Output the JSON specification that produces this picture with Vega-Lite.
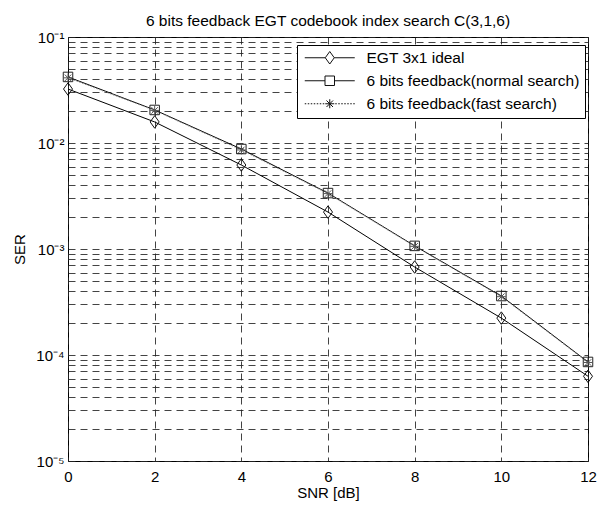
{
  "$schema": "https://vega.github.io/schema/vega-lite/v6.json",
  "width": 520,
  "height": 424,
  "autosize": {"type": "none"},
  "padding": {"left": 68, "top": 37, "right": 20, "bottom": 45},
  "background": "white",
  "config": {
    "font": "Liberation Sans",
    "view": {"stroke": "black", "strokeWidth": 1},
    "axis": {
      "labelFont": "Liberation Sans",
      "titleFont": "Liberation Sans",
      "labelFontSize": 15,
      "titleFontSize": 15,
      "titleFontWeight": "normal",
      "labelColor": "black",
      "titleColor": "black",
      "domain": false,
      "ticks": false,
      "gridColor": "#222222",
      "gridDash": [7, 5],
      "gridWidth": 1,
      "gridOpacity": 0.85
    },
    "legend": {
      "labelFont": "Liberation Sans",
      "labelFontSize": 15.5,
      "labelColor": "black",
      "labelLimit": 0
    }
  },
  "title": {
    "text": "6 bits feedback EGT codebook index search C(3,1,6)",
    "font": "Liberation Sans",
    "fontSize": 15.5,
    "fontWeight": "normal",
    "color": "black",
    "anchor": "middle",
    "offset": 1
  },
  "data": {
    "values": [
      {"snr": 0, "ser": 0.0323, "series": "EGT 3x1 ideal"},
      {"snr": 2, "ser": 0.0158, "series": "EGT 3x1 ideal"},
      {"snr": 4, "ser": 0.0062, "series": "EGT 3x1 ideal"},
      {"snr": 6, "ser": 0.00223, "series": "EGT 3x1 ideal"},
      {"snr": 8, "ser": 0.000676, "series": "EGT 3x1 ideal"},
      {"snr": 10, "ser": 0.000223, "series": "EGT 3x1 ideal"},
      {"snr": 12, "ser": 0.000063, "series": "EGT 3x1 ideal"},
      {"snr": 0, "ser": 0.042, "series": "6 bits feedback(normal search)"},
      {"snr": 2, "ser": 0.0205, "series": "6 bits feedback(normal search)"},
      {"snr": 4, "ser": 0.00877, "series": "6 bits feedback(normal search)"},
      {"snr": 6, "ser": 0.00337, "series": "6 bits feedback(normal search)"},
      {"snr": 8, "ser": 0.00107, "series": "6 bits feedback(normal search)"},
      {"snr": 10, "ser": 0.00036, "series": "6 bits feedback(normal search)"},
      {"snr": 12, "ser": 0.000086, "series": "6 bits feedback(normal search)"},
      {"snr": 0, "ser": 0.0412, "series": "6 bits feedback(fast search)"},
      {"snr": 2, "ser": 0.0203, "series": "6 bits feedback(fast search)"},
      {"snr": 4, "ser": 0.0086, "series": "6 bits feedback(fast search)"},
      {"snr": 6, "ser": 0.00333, "series": "6 bits feedback(fast search)"},
      {"snr": 8, "ser": 0.00106, "series": "6 bits feedback(fast search)"},
      {"snr": 10, "ser": 0.000355, "series": "6 bits feedback(fast search)"},
      {"snr": 12, "ser": 0.000085, "series": "6 bits feedback(fast search)"}
    ]
  },
  "encoding": {
    "x": {
      "field": "snr",
      "type": "quantitative",
      "scale": {"domain": [0, 12], "nice": false, "zero": false},
      "axis": {
        "title": "SNR [dB]",
        "values": [0, 2, 4, 6, 8, 10, 12],
        "labelPadding": 8,
        "titlePadding": 1,
        "labelFlush": false
      }
    },
    "y": {
      "field": "ser",
      "type": "quantitative",
      "scale": {"type": "log", "domain": [0.00001, 0.1], "nice": false},
      "axis": {
        "title": "SER",
        "titlePadding": 8,
        "labelPadding": 4,
        "values": [0.00001, 0.00002, 0.00003, 0.00004, 0.00005, 0.00006, 0.00007, 0.00008, 0.00009,
                   0.0001, 0.0002, 0.0003, 0.0004, 0.0005, 0.0006, 0.0007, 0.0008, 0.0009,
                   0.001, 0.002, 0.003, 0.004, 0.005, 0.006, 0.007, 0.008, 0.009,
                   0.01, 0.02, 0.03, 0.04, 0.05, 0.06, 0.07, 0.08, 0.09, 0.1],
        "labelExpr": "abs(log(datum.value)/LN10 - round(log(datum.value)/LN10)) < 0.000001 ? '10' + ['⁰','⁻¹','⁻²','⁻³','⁻⁴','⁻⁵'][-round(log(datum.value)/LN10)] : ''",
        "labelFlush": false
      }
    }
  },
  "layer": [
    {
      "transform": [{"filter": "datum.series !== '6 bits feedback(fast search)'"}],
      "mark": {"type": "line", "strokeWidth": 1, "color": "black"},
      "encoding": {
        "detail": {"field": "series", "type": "nominal"}
      }
    },
    {
      "transform": [{"filter": "datum.series === '6 bits feedback(fast search)'"}],
      "mark": {"type": "line", "strokeWidth": 1, "color": "#888888", "strokeDash": [1.5, 1.5]},
      "encoding": {}
    },
    {
      "transform": [{"filter": "datum.series === 'EGT 3x1 ideal'"}],
      "mark": {"type": "point", "filled": false, "size": 100, "strokeWidth": 1, "opacity": 1, "color": "#111111", "shape": "M0,-1.25L0.9,0L0,1.25L-0.9,0Z"}
    },
    {
      "transform": [{"filter": "datum.series === '6 bits feedback(normal search)'"}],
      "mark": {"type": "point", "filled": false, "size": 100, "strokeWidth": 1, "opacity": 1, "color": "#222222", "shape": "M-0.95,-0.95H0.95V0.95H-0.95Z"}
    },
    {
      "transform": [{"filter": "datum.series === '6 bits feedback(fast search)'"}],
      "mark": {"type": "point", "filled": false, "size": 100, "strokeWidth": 1, "opacity": 1, "color": "#555555", "shape": "M-0.9,0H0.9M0,-0.9V0.9M-0.65,-0.65L0.65,0.65M-0.65,0.65L0.65,-0.65"}
    },
    {
      "mark": {"type": "point", "filled": false, "size": 100, "strokeWidth": 1, "opacity": 0, "color": "#111111"},
      "encoding": {
        "shape": {
          "field": "series",
          "type": "nominal",
          "scale": {
            "domain": ["EGT 3x1 ideal", "6 bits feedback(normal search)", "6 bits feedback(fast search)"],
            "range": [
              "M-5,0H-0.9M0,-1.25L0.9,0L0,1.25L-0.9,0ZM0.9,0H5",
              "M-5,0H-0.95M-0.95,-0.95H0.95V0.95H-0.95ZM0.95,0H5",
              "M-5,0H-4.7M-4.4,0H-4.1M-3.8,0H-3.5M-3.2,0H-2.9M-2.6,0H-2.3M-2,0H-1.7M-1.4,0H-1.1M1.1,0H1.4M1.7,0H2M2.3,0H2.6M2.9,0H3.2M3.5,0H3.8M4.1,0H4.4M4.7,0H5M-0.9,0H0.9M0,-0.9V0.9M-0.65,-0.65L0.65,0.65M-0.65,0.65L0.65,-0.65"
            ]
          },
          "legend": {
            "title": null,
            "orient": "none",
            "legendX": 229,
            "legendY": 8,
            "padding": 5,
            "rowPadding": 6,
            "strokeColor": "black",
            "fillColor": "white",
            "symbolSize": 100,
            "symbolOffset": 20,
            "labelOffset": 29,
            "symbolStrokeWidth": 1,
            "symbolOpacity": 1,
            "symbolStrokeColor": "#111111",
            "symbolFillColor": "transparent"
          }
        }
      }
    }
  ]
}
